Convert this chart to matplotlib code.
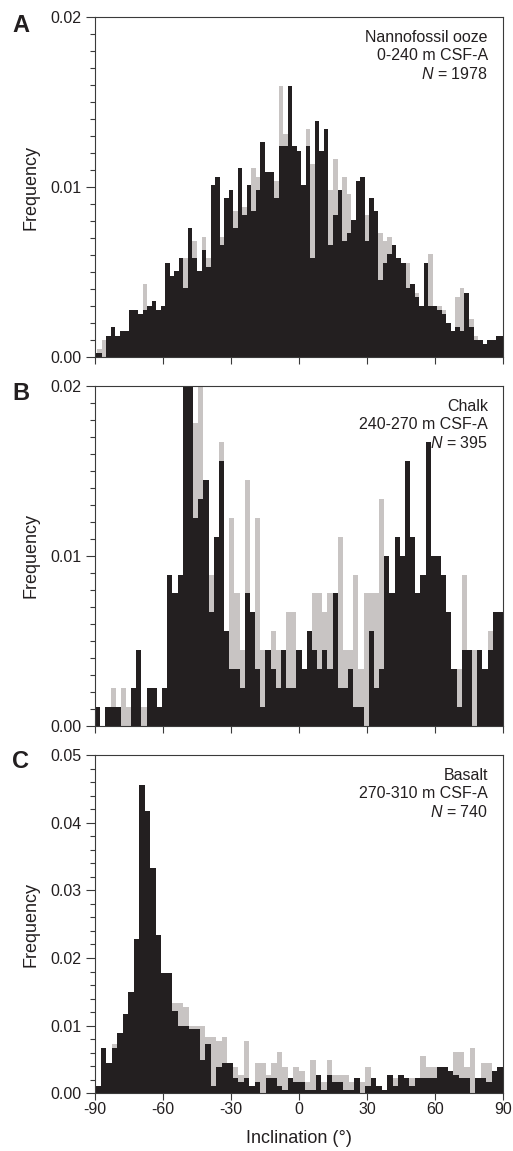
import numpy as np
import matplotlib
matplotlib.use('Agg')
import matplotlib.pyplot as plt
from matplotlib.ticker import MultipleLocator, FormatStrFormatter

plt.rcParams['font.family'] = ['Liberation Sans', 'DejaVu Sans']
plt.rcParams['mathtext.fontset'] = 'custom'
plt.rcParams['mathtext.rm'] = 'Liberation Sans'
plt.rcParams['mathtext.it'] = 'Liberation Sans:italic'
plt.rcParams['axes.unicode_minus'] = False

# --- inclination histograms (counts per bin) ---
# nannofossil ooze: 2 deg bins centred on even degrees
ooze_edges = np.arange(-91, 92, 2)
ooze_n = 1978
ooze_black = [1, 1, 0, 5, 7, 5, 6, 6, 11, 11,
              10, 11, 12, 13, 11, 12, 22, 19, 20, 23,
              16, 30, 23, 20, 25, 21, 40, 42, 26, 37,
              39, 30, 44, 33, 40, 34, 39, 50, 43, 43,
              37, 49, 49, 63, 49, 48, 40, 49, 23, 55,
              48, 53, 26, 33, 39, 27, 29, 32, 41, 42,
              27, 37, 34, 18, 22, 24, 26, 23, 22, 16,
              17, 14, 12, 22, 12, 12, 11, 10, 8, 6,
              7, 6, 15, 7, 4, 4, 3, 4, 4, 5,
              5]
ooze_gray = [1, 2, 4, 5, 7, 5, 6, 6, 11, 11,
             10, 17, 12, 13, 11, 12, 22, 19, 20, 23,
             23, 30, 27, 20, 28, 23, 40, 42, 28, 37,
             39, 34, 44, 35, 40, 44, 42, 50, 43, 43,
             41, 63, 52, 63, 49, 48, 40, 53, 45, 55,
             48, 53, 39, 46, 39, 42, 38, 32, 41, 42,
             33, 37, 34, 29, 27, 28, 26, 23, 22, 22,
             17, 15, 12, 22, 24, 12, 12, 11, 8, 6,
             14, 16, 15, 9, 5, 4, 3, 4, 4, 5,
             5]

# chalk: 79 bins over -90..90
chalk_edges = np.linspace(-90, 90, 80)
chalk_n = 395
chalk_black = [1, 0, 1, 1, 1, 0, 0, 2, 4, 0,
               2, 2, 1, 2, 8, 7, 8, 19, 19, 11,
               12, 13, 6, 10, 14, 5, 3, 3, 2, 7,
               6, 3, 1, 4, 3, 2, 4, 2, 2, 4,
               3, 5, 4, 3, 4, 3, 7, 2, 2, 3,
               1, 1, 0, 5, 2, 3, 9, 7, 10, 9,
               14, 10, 7, 8, 15, 9, 9, 8, 6, 3,
               1, 4, 4, 0, 4, 3, 4, 6, 6]
chalk_gray = [1, 0, 1, 2, 1, 2, 1, 2, 4, 1,
              2, 2, 1, 2, 8, 7, 8, 19, 19, 16,
              19, 13, 8, 10, 15, 5, 11, 7, 4, 13,
              6, 11, 4, 4, 5, 4, 4, 6, 6, 4,
              3, 5, 7, 7, 6, 7, 7, 10, 4, 4,
              8, 3, 7, 7, 7, 12, 9, 7, 10, 9,
              14, 10, 7, 8, 15, 9, 9, 8, 6, 3,
              3, 8, 4, 4, 4, 3, 5, 6, 6]

# basalt: 74 bins over -90..90
basalt_edges = np.linspace(-90, 90, 75)
basalt_n = 740
basalt_black = [2, 12, 8, 12, 16, 21, 27, 41, 82, 75,
                60, 42, 32, 32, 22, 18, 18, 17, 17, 9,
                13, 2, 7, 8, 8, 4, 3, 4, 2, 3,
                0, 4, 4, 2, 1, 4, 3, 3, 1, 1,
                5, 1, 5, 3, 3, 1, 1, 4, 0, 2,
                4, 2, 1, 5, 2, 5, 4, 2, 4, 4,
                4, 4, 7, 7, 6, 5, 4, 4, 0, 4,
                4, 3, 6, 7]
basalt_gray = [2, 12, 8, 13, 16, 21, 27, 41, 82, 75,
               60, 42, 32, 32, 24, 24, 23, 18, 18, 18,
               15, 15, 14, 15, 8, 7, 5, 14, 2, 8,
               8, 5, 8, 11, 7, 4, 7, 6, 3, 9,
               5, 3, 9, 5, 5, 5, 3, 4, 3, 7,
               4, 2, 1, 5, 4, 5, 4, 4, 4, 10,
               7, 7, 7, 7, 6, 11, 11, 7, 12, 4,
               8, 8, 6, 7]

ink = '#231f20'
shade = '#c8c4c3'
frame = '#3a3a3a'

panels = [
    ('A', ['Nannofossil ooze', '0-240 m CSF-A'], ooze_n, ooze_edges,
     ooze_gray, ooze_black, 0.02, 0.001, [0.1852, 0.6896, 0.7953, 0.2957], 1 - 32 / 1151),
    ('B', ['Chalk', '240-270 m CSF-A'], chalk_n, chalk_edges,
     chalk_gray, chalk_black, 0.02, 0.001, [0.1852, 0.3695, 0.7953, 0.2954], 1 - 400 / 1151),
    ('C', ['Basalt', '270-310 m CSF-A'], basalt_n, basalt_edges,
     basalt_gray, basalt_black, 0.05, 0.002, [0.1852, 0.0501, 0.7953, 0.2939], 1 - 768 / 1151),
]

fig = plt.figure(figsize=(5.13, 11.51), dpi=100)

for i, (letter, lines, n, edges, gray, black, ymax, minor, rect, ly) in enumerate(panels):
    ax = fig.add_axes(rect)
    width = np.diff(edges)
    ax.stairs(np.asarray(gray) / (n * width), edges, fill=True, color=shade, lw=0)
    ax.stairs(np.asarray(black) / (n * width), edges, fill=True, color=ink, lw=0)

    ax.set_xlim(-90, 90)
    ax.set_ylim(0, ymax)
    ax.xaxis.set_major_locator(MultipleLocator(30))
    ax.yaxis.set_major_locator(MultipleLocator(0.01))
    ax.yaxis.set_minor_locator(MultipleLocator(minor))
    ax.yaxis.set_major_formatter(FormatStrFormatter('%.2f'))

    for s in ax.spines.values():
        s.set_linewidth(0.8)
        s.set_color(frame)
    ax.tick_params(axis='both', which='both', direction='out', color=frame,
                   width=0.8, labelsize=11.5, labelcolor=ink)
    ax.tick_params(axis='y', which='major', length=6.5, pad=3)
    ax.tick_params(axis='y', which='minor', length=3.5)
    ax.tick_params(axis='x', which='major', length=5, pad=1.5)
    ax.tick_params(right=False, top=False)

    ax.set_ylabel('Frequency', fontsize=13, color=ink)
    ax.yaxis.set_label_coords(-0.135, 0.5)

    if i < 2:
        ax.tick_params(axis='x', labelbottom=False)
    else:
        ax.set_xlabel('Inclination (\u00b0)', fontsize=13, color=ink)
        ax.xaxis.set_label_coords(0.5, -0.108)

    label = '\n'.join(lines + ['$N$ = %d' % n])
    ax.text(0.963, 0.962, label, transform=ax.transAxes, ha='right', va='top',
            fontsize=11.5, linespacing=1.25, color=ink)

    fig.text(12 / 513, ly, letter, fontsize=17, fontweight='bold', color=ink,
             ha='left', va='baseline')

fig.savefig('out.png', dpi=100)
